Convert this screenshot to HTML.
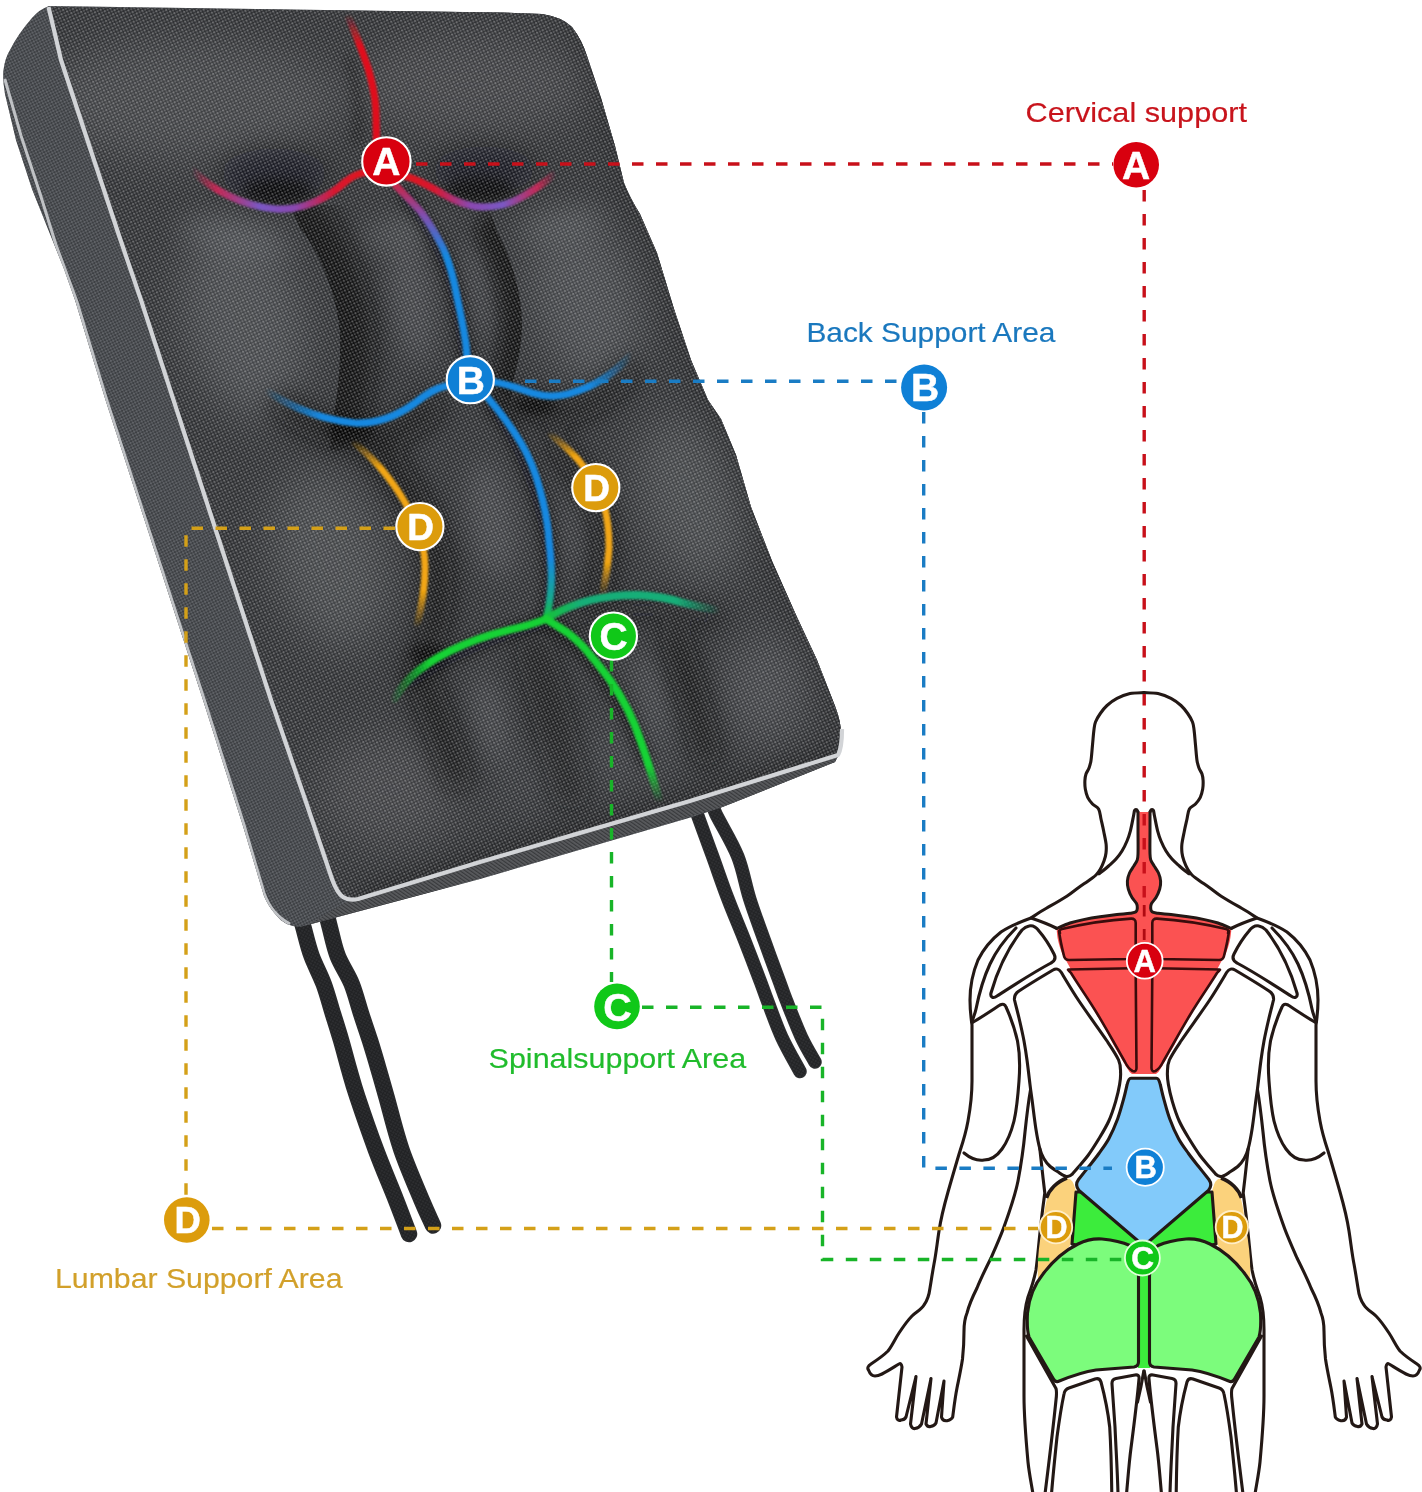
<!DOCTYPE html>
<html lang="en">
<head>
<meta charset="utf-8">
<title>Cushion support areas</title>
<style>
html,body{margin:0;padding:0;background:#fff;}
body{width:1422px;height:1492px;overflow:hidden;}
svg{display:block;}
text{font-family:"Liberation Sans",sans-serif;}
.lbl{font-size:28.5px;stroke-width:0.18px;}
.bd{font-weight:bold;fill:#fff;text-anchor:middle;stroke:#fff;stroke-width:0.5px;}
</style>
</head>
<body>
<svg width="1422" height="1492" viewBox="0 0 1422 1492">
<defs>
  <filter id="b2" x="-20%" y="-20%" width="140%" height="140%"><feGaussianBlur stdDeviation="2"/></filter>
  <filter id="b15" x="-20%" y="-20%" width="140%" height="140%"><feGaussianBlur stdDeviation="1.4"/></filter>
  <filter id="b12u" filterUnits="userSpaceOnUse" x="0" y="0" width="900" height="960"><feGaussianBlur stdDeviation="11"/></filter>
  <filter id="b6u" filterUnits="userSpaceOnUse" x="0" y="0" width="900" height="960"><feGaussianBlur stdDeviation="7"/></filter>
  <filter id="b1" x="-20%" y="-20%" width="140%" height="140%"><feGaussianBlur stdDeviation="1"/></filter>
  <filter id="b6" x="-30%" y="-30%" width="160%" height="160%"><feGaussianBlur stdDeviation="6"/></filter>
  <filter id="b12" x="-40%" y="-40%" width="180%" height="180%"><feGaussianBlur stdDeviation="12"/></filter>
  <filter id="b20" x="-50%" y="-50%" width="200%" height="200%"><feGaussianBlur stdDeviation="20"/></filter>
  <pattern id="weave" width="4.4" height="4.4" patternUnits="userSpaceOnUse" patternTransform="rotate(20)">
    <rect width="4.4" height="4.4" fill="#000" fill-opacity="0.3"/>
    <circle cx="1.1" cy="1.1" r="1.05" fill="#fff" fill-opacity="0.32"/>
    <circle cx="3.3" cy="3.3" r="1.05" fill="#fff" fill-opacity="0.24"/>
  </pattern>
  <pattern id="weave2" width="4" height="4" patternUnits="userSpaceOnUse" patternTransform="rotate(18)">
    <rect width="4" height="4" fill="#3a3d42"/>
    <circle cx="1" cy="1" r="1.05" fill="#9a9ea4"/>
    <circle cx="3" cy="3" r="1.05" fill="#8a8e94"/>
  </pattern>
  <pattern id="ribs" width="3" height="3" patternUnits="userSpaceOnUse" patternTransform="rotate(-55)">
    <rect width="3" height="3" fill="#000" fill-opacity="0"/>
    <rect width="1.2" height="3" fill="#1c1d1f" fill-opacity="0.55"/>
  </pattern>
  <pattern id="rope" width="3" height="3" patternUnits="userSpaceOnUse" patternTransform="rotate(30)">
    <rect width="3" height="3" fill="#1d1e20"/>
    <circle cx="1" cy="1" r="0.7" fill="#4a4c50"/>
  </pattern>
  <clipPath id="clL"><path d="M290,205 L300,228 C318,250 338,295 340,335 C341,368 337,398 333,420 L330,450 L480,450 L480,205 Z"/></clipPath>
  <clipPath id="clR"><path d="M490,210 L497,232 C512,258 523,298 522,328 C521,350 517,366 513,382 L510,410 L420,410 L420,210 Z"/></clipPath>
  <clipPath id="cushClip">
    <path id="cushOuter" d="M49,6 L500,12.5 L542,14 Q562,17 572,27 Q582,40 587,56 L601,98 L615,146 L624,183 Q630,198 640,214 L657,253 L674,309 L691,360 L708,400 L721,419 L736,455 L751,507 L772,561 L796,615 L817,660 L835,706 Q842,724 841,738 Q841,752 835,762 L720,808 L692,817 L480,879 L300,927 Q284,926 276,915 Q268,906 264,896 L243,826 L203,700 L105.5,400 L75,300 L64,269 L48,229 L32,189 L16,140 L5,94 Q2.5,80 3.5,70 Q5,58 10,50 Q18,34 32,18 Q40,9 49,6 Z"/>
  </clipPath>
  <clipPath id="faceClip">
    <path d="M49,7 L500,12.5 L542,14 Q562,17 572,27 Q582,40 587,56 L601,98 L615,146 L624,183 Q630,198 640,214 L657,253 L674,309 L691,360 L708,400 L721,419 L736,455 L751,507 L772,561 L796,615 L817,660 L835,706 Q842,724 841,738 L840,754 L690,801 L480,862 L355,900 Q345,900 340,896 L332,879 L307,805 L271,700 L141,300 L120,238.5 L90,148 L61,60 L54,30 Z"/>
  </clipPath>
  <linearGradient id="gRedL" gradientUnits="userSpaceOnUse" x1="192" y1="0" x2="370" y2="0">
    <stop offset="0" stop-color="#d02050" stop-opacity="0"/><stop offset="0.14" stop-color="#d02858" stop-opacity="0.9"/><stop offset="0.38" stop-color="#7a58c4"/><stop offset="0.58" stop-color="#8a48b0"/><stop offset="0.8" stop-color="#d81830"/><stop offset="1" stop-color="#e0101c"/>
  </linearGradient>
  <linearGradient id="gRedR" gradientUnits="userSpaceOnUse" x1="400" y1="0" x2="556" y2="0">
    <stop offset="0" stop-color="#e0101c"/><stop offset="0.22" stop-color="#d81830"/><stop offset="0.45" stop-color="#8a48b0"/><stop offset="0.66" stop-color="#7a58c4"/><stop offset="0.88" stop-color="#d02858" stop-opacity="0.9"/><stop offset="1" stop-color="#d02050" stop-opacity="0"/>
  </linearGradient>
  <linearGradient id="gAB" gradientUnits="userSpaceOnUse" x1="0" y1="180" x2="0" y2="380">
    <stop offset="0" stop-color="#d0203a"/><stop offset="0.18" stop-color="#8050b0"/><stop offset="0.38" stop-color="#1488e0"/><stop offset="1" stop-color="#1488e0"/>
  </linearGradient>
  <linearGradient id="gRedV" gradientUnits="userSpaceOnUse" x1="0" y1="14" x2="0" y2="140">
    <stop offset="0" stop-color="#e0101c" stop-opacity="0"/><stop offset="0.25" stop-color="#e0101c"/><stop offset="1" stop-color="#e0101c"/>
  </linearGradient>
  <linearGradient id="gBlueL" gradientUnits="userSpaceOnUse" x1="265" y1="0" x2="450" y2="0">
    <stop offset="0" stop-color="#1488e0" stop-opacity="0"/><stop offset="0.3" stop-color="#1488e0"/><stop offset="1" stop-color="#1488e0"/>
  </linearGradient>
  <linearGradient id="gBlueR" gradientUnits="userSpaceOnUse" x1="490" y1="0" x2="632" y2="0">
    <stop offset="0" stop-color="#1488e0"/><stop offset="0.7" stop-color="#1488e0"/><stop offset="1" stop-color="#1488e0" stop-opacity="0"/>
  </linearGradient>
  <linearGradient id="gBC" gradientUnits="userSpaceOnUse" x1="0" y1="400" x2="0" y2="620">
    <stop offset="0" stop-color="#1488e0"/><stop offset="0.72" stop-color="#1488e0"/><stop offset="0.9" stop-color="#14a890"/><stop offset="1" stop-color="#12c03a"/>
  </linearGradient>
  <linearGradient id="gGrL" gradientUnits="userSpaceOnUse" x1="390" y1="0" x2="548" y2="0">
    <stop offset="0" stop-color="#14d234" stop-opacity="0"/><stop offset="0.25" stop-color="#14d234"/><stop offset="1" stop-color="#14d234"/>
  </linearGradient>
  <linearGradient id="gGrR" gradientUnits="userSpaceOnUse" x1="546" y1="0" x2="720" y2="0">
    <stop offset="0" stop-color="#12c03a"/><stop offset="0.2" stop-color="#14ae78"/><stop offset="0.75" stop-color="#14ae78"/><stop offset="1" stop-color="#14ae78" stop-opacity="0"/>
  </linearGradient>
  <linearGradient id="gGrD" gradientUnits="userSpaceOnUse" x1="0" y1="620" x2="0" y2="802">
    <stop offset="0" stop-color="#14d234"/><stop offset="0.8" stop-color="#14d234"/><stop offset="1" stop-color="#14d234" stop-opacity="0"/>
  </linearGradient>
  <linearGradient id="gYR" gradientUnits="userSpaceOnUse" x1="0" y1="432" x2="0" y2="595">
    <stop offset="0" stop-color="#f2a612" stop-opacity="0"/><stop offset="0.15" stop-color="#f2a612"/><stop offset="0.8" stop-color="#f2a612"/><stop offset="1" stop-color="#f2a612" stop-opacity="0"/>
  </linearGradient>
  <linearGradient id="gYL" gradientUnits="userSpaceOnUse" x1="0" y1="440" x2="0" y2="628">
    <stop offset="0" stop-color="#f2a612" stop-opacity="0"/><stop offset="0.15" stop-color="#f2a612"/><stop offset="0.8" stop-color="#f2a612"/><stop offset="1" stop-color="#f2a612" stop-opacity="0"/>
  </linearGradient>
</defs>

<rect width="1422" height="1492" fill="#ffffff"/>

<!-- ===== STRAPS ===== -->
<g id="straps" fill="none" stroke-linecap="round">
  <path d="M300.0,915.0 C300.6,917.2 301.7,921.2 303.6,928.0 C305.5,934.8 308.2,946.7 311.6,956.0 C315.0,965.3 320.1,974.3 323.7,984.0 C327.3,993.7 330.1,1004.7 333.0,1014.0 C335.9,1023.3 338.3,1030.8 341.0,1040.0 C343.7,1049.2 346.3,1059.5 349.0,1069.0 C351.7,1078.5 352.9,1083.5 357.4,1097.0 C361.9,1110.5 369.6,1132.8 376.0,1150.0 C382.4,1167.2 390.5,1186.0 396.0,1200.0 C401.5,1214.0 406.8,1228.3 409.0,1234.0" stroke="#2a2b2d" stroke-width="16.5"/>
  <path d="M326.0,912.0 C326.7,914.7 328.1,920.7 330.0,928.0 C331.9,935.3 334.1,946.7 337.7,956.0 C341.3,965.3 347.8,974.3 351.7,984.0 C355.6,993.7 358.1,1004.6 361.2,1014.0 C364.2,1023.4 367.1,1031.4 370.0,1040.6 C372.9,1049.8 375.8,1059.6 378.5,1069.0 C381.2,1078.4 382.7,1083.5 386.5,1097.0 C390.3,1110.5 395.6,1132.8 401.5,1150.0 C407.4,1167.2 416.4,1187.4 421.6,1200.0 C426.9,1212.6 431.1,1221.2 433.0,1225.5" stroke="#2a2b2d" stroke-width="16.5"/>
  <path d="M696.0,810.0 C696.6,811.8 696.9,813.3 699.7,821.0 C702.5,828.7 707.9,843.4 712.6,856.3 C717.3,869.2 722.4,884.5 727.8,898.5 C733.1,912.5 739.2,926.6 744.7,940.6 C750.2,954.6 757.1,972.9 760.9,982.8 C764.6,992.7 763.7,990.9 767.2,1000.0 C770.7,1009.1 776.3,1025.4 781.8,1037.3 C787.3,1049.2 797.0,1065.8 800.0,1071.5" stroke="#303133" stroke-width="13.5"/>
  <path d="M711.0,800.0 C711.8,802.3 711.4,804.6 715.9,814.0 C720.4,823.4 732.1,842.2 737.7,856.3 C743.3,870.4 745.2,884.5 749.6,898.5 C754.0,912.5 759.4,926.6 764.4,940.6 C769.4,954.6 776.3,972.9 779.9,982.8 C783.5,992.7 782.6,990.9 786.2,1000.0 C789.8,1009.1 796.7,1027.0 801.5,1037.3 C806.3,1047.6 812.8,1057.9 815.0,1062.0" stroke="#303133" stroke-width="13.5"/>
  <path d="M300.0,915.0 C300.6,917.2 301.7,921.2 303.6,928.0 C305.5,934.8 308.2,946.7 311.6,956.0 C315.0,965.3 320.1,974.3 323.7,984.0 C327.3,993.7 330.1,1004.7 333.0,1014.0 C335.9,1023.3 338.3,1030.8 341.0,1040.0 C343.7,1049.2 346.3,1059.5 349.0,1069.0 C351.7,1078.5 352.9,1083.5 357.4,1097.0 C361.9,1110.5 369.6,1132.8 376.0,1150.0 C382.4,1167.2 390.5,1186.0 396.0,1200.0 C401.5,1214.0 406.8,1228.3 409.0,1234.0" stroke="url(#rope)" stroke-width="14" opacity="0.7"/>
  <path d="M326.0,912.0 C326.7,914.7 328.1,920.7 330.0,928.0 C331.9,935.3 334.1,946.7 337.7,956.0 C341.3,965.3 347.8,974.3 351.7,984.0 C355.6,993.7 358.1,1004.6 361.2,1014.0 C364.2,1023.4 367.1,1031.4 370.0,1040.6 C372.9,1049.8 375.8,1059.6 378.5,1069.0 C381.2,1078.4 382.7,1083.5 386.5,1097.0 C390.3,1110.5 395.6,1132.8 401.5,1150.0 C407.4,1167.2 416.4,1187.4 421.6,1200.0 C426.9,1212.6 431.1,1221.2 433.0,1225.5" stroke="url(#rope)" stroke-width="14" opacity="0.7"/>
  <path d="M696.0,810.0 C696.6,811.8 696.9,813.3 699.7,821.0 C702.5,828.7 707.9,843.4 712.6,856.3 C717.3,869.2 722.4,884.5 727.8,898.5 C733.1,912.5 739.2,926.6 744.7,940.6 C750.2,954.6 757.1,972.9 760.9,982.8 C764.6,992.7 763.7,990.9 767.2,1000.0 C770.7,1009.1 776.3,1025.4 781.8,1037.3 C787.3,1049.2 797.0,1065.8 800.0,1071.5" stroke="url(#rope)" stroke-width="11.5" opacity="0.7"/>
  <path d="M711.0,800.0 C711.8,802.3 711.4,804.6 715.9,814.0 C720.4,823.4 732.1,842.2 737.7,856.3 C743.3,870.4 745.2,884.5 749.6,898.5 C754.0,912.5 759.4,926.6 764.4,940.6 C769.4,954.6 776.3,972.9 779.9,982.8 C783.5,992.7 782.6,990.9 786.2,1000.0 C789.8,1009.1 796.7,1027.0 801.5,1037.3 C806.3,1047.6 812.8,1057.9 815.0,1062.0" stroke="url(#rope)" stroke-width="11.5" opacity="0.7"/>
</g>

<!-- ===== CUSHION ===== -->
<g id="cushion">
  <!-- side panel / whole silhouette -->
  <use href="#cushOuter" fill="#3f4144"/>
  <g clip-path="url(#cushClip)">
    <rect x="0" y="0" width="860" height="940" fill="url(#weave2)" opacity="0.42"/>
    <!-- bottom side band darker -->
    <path d="M296,932 L842,772 L842,752 L350,900 Z" fill="#5a5b5e"/>
    <path d="M296,932 L842,772 L842,752 L350,900 Z" fill="url(#ribs)"/>
    <!-- back piping -->
    <path d="M4.8,79 L21,135.6 L40,193.5 L56,245 L66,272 L77,302 L107,401 L204,699 L244,825 L264,893 Q271,914 290,924" fill="none" stroke="#c6c8cb" stroke-width="3" opacity="0.95"/>
  </g>
  <!-- front face -->
  <g clip-path="url(#faceClip)">
    <rect x="0" y="0" width="860" height="940" fill="#414347"/>
    <!-- SHADING -->
    <g id="shade">
      <!-- broad light areas -->
      <g filter="url(#b20)" fill="#75787d">
        <ellipse cx="190" cy="100" rx="150" ry="60" opacity="0.5"/>
        <ellipse cx="470" cy="85" rx="120" ry="50" opacity="0.45"/>
        <ellipse cx="245" cy="320" rx="60" ry="100" opacity="0.65" transform="rotate(-14 245 320)"/>
        <ellipse cx="585" cy="300" rx="52" ry="90" opacity="0.65" transform="rotate(-16 585 300)"/>
        <ellipse cx="330" cy="560" rx="55" ry="90" opacity="0.6" transform="rotate(-16 330 560)"/>
        <ellipse cx="690" cy="500" rx="48" ry="85" opacity="0.6" transform="rotate(-18 690 500)"/>
        <ellipse cx="765" cy="690" rx="42" ry="55" opacity="0.55"/>
        <ellipse cx="390" cy="790" rx="70" ry="55" opacity="0.45"/>
        <ellipse cx="600" cy="760" rx="120" ry="30" opacity="0.3" transform="rotate(-16 600 760)"/>
      </g>
      <g filter="url(#b12)" fill="#7a7d83">
        <ellipse cx="412" cy="300" rx="20" ry="65" opacity="0.5" transform="rotate(-8 412 300)"/>
        <ellipse cx="478" cy="290" rx="9" ry="50" opacity="0.5" transform="rotate(-10 478 290)"/>
        <ellipse cx="492" cy="520" rx="22" ry="60" opacity="0.5" transform="rotate(-10 492 520)"/>
        <ellipse cx="578" cy="530" rx="10" ry="45" opacity="0.45"/>
        <ellipse cx="490" cy="720" rx="16" ry="45" opacity="0.5" transform="rotate(-12 490 720)"/>
        <ellipse cx="652" cy="690" rx="13" ry="42" opacity="0.5" transform="rotate(-15 652 690)"/>
      </g>
      <!-- wide shadows on the shadow side of creases -->
      <g filter="url(#b12)" fill="none" stroke="#0d0e10" stroke-linecap="round">
                                        <path d="M285,408 C310,426 338,440 364,440 C392,440 412,424 432,408" stroke-width="26" opacity="0.75"/>
        <path d="M505,398 C525,408 545,414 566,412 C590,408 610,394 628,374" stroke-width="24" opacity="0.75"/>
        <path d="M382,458 C402,478 422,508 432,538 C442,568 440,602 432,636" stroke-width="28" opacity="0.8"/>
        <path d="M556,446 C578,466 594,494 601,522 C607,550 604,580 598,600" stroke-width="22" opacity="0.75"/>
        <path d="M420,668 C430,702 445,742 457,776" stroke-width="32" opacity="0.7"/>
        <path d="M535,652 C550,702 560,752 570,790" stroke-width="40" opacity="0.55"/>
        <path d="M676,642 C689,682 699,716 706,752" stroke-width="30" opacity="0.7"/>
        <path d="M565,622 C604,608 652,604 715,618" stroke-width="18" opacity="0.6"/>
      </g>
      <g filter="url(#b12)" fill="#0b0c0e">
        <ellipse cx="274" cy="174" rx="54" ry="26" opacity="0.5"/>
        <ellipse cx="484" cy="170" rx="52" ry="24" opacity="0.5"/>
      </g>
      <g filter="url(#b12)" fill="#80848a">
        <ellipse cx="235" cy="238" rx="58" ry="16" opacity="0.5" transform="rotate(12 235 238)"/>
        <ellipse cx="398" cy="232" rx="40" ry="14" opacity="0.45" transform="rotate(-10 398 232)"/>
        <ellipse cx="560" cy="225" rx="45" ry="14" opacity="0.45" transform="rotate(-8 560 225)"/>
      </g>
      <!-- sharp-edged crease shadows -->
      <g clip-path="url(#clL)"><path d="M300,228 C318,250 338,295 340,335 C341,368 337,398 333,420" fill="none" stroke="#08090a" stroke-width="70" stroke-linecap="round" opacity="0.8" filter="url(#b12u)"/></g>
      <g clip-path="url(#clR)"><path d="M497,232 C512,258 523,298 522,328 C521,350 517,366 513,382" fill="none" stroke="#08090a" stroke-width="42" stroke-linecap="round" opacity="0.8" filter="url(#b6u)"/></g>
      <g filter="url(#b6)" fill="none" stroke="#08090a" stroke-linecap="round">
        <path d="M405,195 C430,225 448,260 456,297 C462,330 466,355 470,380" stroke-width="14" opacity="0.65"/>
        <path d="M492,405 C520,440 540,490 548,541 C552,575 550,600 546,618" stroke-width="14" opacity="0.65"/>
        <path d="M546,622 C500,634 450,652 410,682" stroke-width="14" opacity="0.65"/>
        <path d="M552,626 C590,652 625,700 645,760" stroke-width="14" opacity="0.6"/>
        <path d="M356,140 C362,120 358,90 350,60" stroke-width="10" opacity="0.4"/>
      </g>
      <!-- dimples -->
      <g filter="url(#b6)" fill="#050607">
        <ellipse cx="278" cy="192" rx="36" ry="13" opacity="0.75"/>
        <ellipse cx="480" cy="190" rx="36" ry="13" opacity="0.75"/>
        <ellipse cx="350" cy="430" rx="24" ry="12" opacity="0.8"/>
        <ellipse cx="535" cy="405" rx="22" ry="10" opacity="0.8"/>
        <ellipse cx="428" cy="655" rx="18" ry="12" opacity="0.8"/>
      </g>
      <!-- edge vignette -->
      <g filter="url(#b12)" fill="none" stroke="#101113">
        <path d="M572,27 Q582,40 587,56 L601,98 L615,146 L624,183 Q630,198 640,214 L657,253 L674,309 L691,360 L708,400 L721,419 L736,455 L751,507 L772,561 L796,615 L817,660 L835,706 Q842,724 841,738" stroke-width="10" opacity="0.3"/>
        <path d="M355,900 L480,862 L690,801 L840,754" stroke-width="12" opacity="0.55"/>
      </g>
    </g>
    <rect x="0" y="0" width="860" height="940" fill="url(#weave)"/>
  </g>
  <!-- front piping -->
  <path d="M48.5,7 L54,30 L61,60 L90,148 L120,238.5 L141,300 L271,700 L307,805 L332,879 Q337,893 343,897 Q349,901 358,899 L480,862 L690,801 L838,755 Q842,748 842,729" fill="none" stroke="#d2d4d7" stroke-width="4.2" stroke-linejoin="round"/>
</g>

<!-- ===== COLOURED CURVES ON CUSHION ===== -->
<g id="curves" fill="none" stroke-linecap="round" filter="url(#b1)">
  <path d="M349,18 C356,35 363,52 368.6,70 C372,82 374.5,92 375.5,105 C376.3,115 376.3,128 376.5,140" stroke="url(#gRedV)" stroke-width="7.2"/>
  <path d="M192,170 C210,188 240,206 276,209 C305,211 330,196 345,182 C352,176 360,173 367,172" stroke="url(#gRedL)" stroke-width="7.2"/>
  <path d="M405,176 C420,180 432,188 443,194 C458,203 470,207 483,207 C500,207 512,203 522,197 C534,190 545,183 553,175" stroke="url(#gRedR)" stroke-width="7.2"/>
  <path d="M396,186 C406,196 414,204 421,212 C430,224 437,236 443,248 C450,264 454,280 457,297 C461,316 464,330 466,345 C467,358 468,368 470,380" stroke="url(#gAB)" stroke-width="7.2"/>
  <path d="M268,392 C290,406 320,420 355,423 C380,424 400,414 415,403 C428,393 436,388 446,386" stroke="url(#gBlueL)" stroke-width="7.2"/>
  <path d="M494,382 C508,384 520,389 532,393 C545,397 556,397 568,394 C582,390 594,385 603,379 C614,372 622,365 630,356" stroke="url(#gBlueR)" stroke-width="7.2"/>
  <path d="M488,398 C500,412 512,428 521,443 C530,458 536,474 540,490 C545,508 548,524 549,541 C551,558 552,574 551,588 C550,600 549,610 546,618" stroke="url(#gBC)" stroke-width="7.2"/>
  <path d="M546,619 C534,624 522,627 509,630 C488,635 468,642 450,651 C432,660 420,668 410,678 C403,685 398,692 394,699" stroke="url(#gGrL)" stroke-width="7.8"/>
  <path d="M546,619 C560,610 575,604 591,600 C607,596 622,595 638,595 C654,596 668,598 680,602 C692,605 705,608 718,610" stroke="url(#gGrR)" stroke-width="7.8"/>
  <path d="M546,619 C554,624 561,628 568,633 C577,640 585,648 591,656 C598,664 604,672 610,680 C624,700 634,720 641,742 C648,762 654,782 659,800" stroke="url(#gGrD)" stroke-width="7.8"/>
  <path d="M551,434 C562,444 572,452 580,462 C590,474 598,488 603,502 C607,514 609,530 609,548 C608,564 606,578 603,592" stroke="url(#gYR)" stroke-width="6.8"/>
  <path d="M355,443 C368,454 378,464 387,476 C398,490 408,506 415,522 C421,536 425,552 425,567 C425,588 422,606 417,625" stroke="url(#gYL)" stroke-width="6.8"/>
</g>


<!-- ===== BODY ===== -->
<g id="body">

  <g id="half" fill="none" stroke="#231815" stroke-width="3.1" stroke-linejoin="round" stroke-linecap="round">
    <!-- head half + neck + shoulder + arm outer -->
    <path d="M1144.0,692.6 C1141.7,692.8 1134.5,692.6 1130.0,693.6 C1125.5,694.6 1120.8,696.4 1117.0,698.4 C1113.2,700.4 1109.8,703.0 1107.0,705.5 C1104.2,708.0 1102.2,710.8 1100.3,713.5 C1098.4,716.2 1096.6,719.2 1095.5,722.0 C1094.4,724.8 1094.4,726.5 1093.9,730.3 C1093.4,734.1 1093.0,740.0 1092.5,745.0 C1092.0,750.0 1091.6,756.6 1091.0,760.4 C1090.4,764.2 1089.8,765.7 1089.0,768.0 C1088.2,770.3 1086.7,771.9 1086.0,774.0 C1085.3,776.1 1085.0,778.0 1084.9,780.5 C1084.8,783.0 1084.8,786.2 1085.3,789.0 C1085.8,791.8 1086.5,794.8 1087.7,797.3 C1088.9,799.8 1090.7,802.0 1092.5,804.0 C1094.3,806.0 1097.2,806.5 1098.6,809.0 C1100.0,811.5 1100.2,815.4 1101.0,819.0 C1101.8,822.6 1102.8,826.6 1103.6,830.8 C1104.4,835.0 1105.7,840.5 1106.1,844.2 C1106.5,847.9 1106.3,850.2 1106.0,853.0 C1105.7,855.8 1105.0,858.3 1104.0,861.0 C1103.0,863.7 1101.6,867.0 1100.3,869.3 C1099.0,871.6 1097.7,873.3 1096.0,875.0 C1094.3,876.7 1093.2,877.2 1090.2,879.4 C1087.2,881.6 1081.9,885.2 1078.0,888.0 C1074.1,890.8 1071.5,893.2 1066.8,896.2 C1062.1,899.2 1054.5,903.6 1050.0,906.2 C1045.5,908.8 1043.2,910.0 1040.0,912.0 C1036.8,914.0 1032.5,917.0 1031.0,918.0 C1020,922 1010,926 1001,932 C992,939 984,948 978,960 C973,972 970,986 970,1000 C970,1010 971,1018 972,1025 L972,1081 C972,1096 970,1110 968,1121 C966,1132 963,1142 960,1151 C956,1164 952,1178 948,1192 C944,1206 941,1218 939,1231 C937,1244 936,1254 934,1264 C932,1275 931,1282 930,1288 C929,1296 927,1301 924,1305 C921,1310 916,1312 912,1316 C907,1321 903,1327 899,1333 C895,1339 892,1346 888,1351 C883,1356 877,1360 871,1364 C868,1366 867,1368 868.5,1370 C870,1374 872,1376 875,1376 C878,1376 880,1375 882,1374 C888,1371 894,1367 899,1364 C900.5,1363 901.5,1364 902,1367 L896.5,1417 C897,1420 899,1421 901,1420 C903,1420 905,1419 906,1417 L916,1376.5 L910.5,1424 C911,1427 913,1429 915,1428.5 C918,1428 920,1427 921.5,1424 L931,1378.5 L926,1424 C927,1426 929,1427 930.5,1426.5 C933,1426 935,1425 936,1423 L944,1381 L941.5,1417 C942,1420 944,1421 947,1420.7 C950,1420 952,1419 952.7,1417 C954,1407 955,1398 957,1388 C959,1378 961,1369 962.5,1359 C963.5,1350 964,1340 964,1331 C964,1324 965,1318 967,1313 C969,1305 973,1296 977,1288 C981,1278 986,1268 991,1258 C996,1246 1001,1236 1005,1224 C1010,1210 1015,1196 1018,1181 C1021,1165 1023.5,1148 1025,1132 C1026.5,1118 1028,1104 1030.5,1090"/>
    <!-- neck muscle leaf + spine outline -->
    <path d="M1138.0,812.0 C1137.8,811.6 1137.2,809.9 1136.6,809.6 C1136.0,809.4 1135.1,809.4 1134.6,810.5 C1134.1,811.6 1134.2,812.6 1133.5,816.0 C1132.8,819.4 1131.5,826.6 1130.4,830.8 C1129.3,835.0 1128.4,837.6 1127.0,841.0 C1125.6,844.4 1123.8,848.0 1122.0,851.0 C1120.2,854.0 1118.2,856.5 1116.0,859.0 C1113.8,861.5 1110.8,864.0 1108.6,866.0 C1106.4,868.0 1104.6,869.5 1103.0,870.8 C1101.4,872.1 1099.7,873.3 1099.0,873.8"/>
    <!-- trapezius to red top connection -->
    <path d="M1031,918 C1040,921 1048,924 1056,928"/>
    <!-- deltoid lens -->
    <path d="M1016,928 C1005,939 996,951 990,964 C983,979 979,994 976,1009 C975,1014 973,1018 972,1022"/>
    <!-- rear deltoid triangle -->
    <path d="M1029,926 C1033,925 1036,927 1039,931 C1045,938 1050,946 1054,954 C1056,958 1055,961 1051,963 C1034,972 1014,985 997,996 C993,999 990,997 991,993 C997,972 1008,948 1022,930 C1024,928 1026,926.5 1029,926 Z" fill="#fff"/>
    <!-- triceps -->
    <path d="M972.5,1022.5 C982,1017 992,1010 1000,1005 C1003,1003.5 1005,1004.5 1006,1007 C1011,1018 1015,1030 1017.5,1041 C1020,1054 1020,1068 1019,1081 C1018,1095 1017,1108 1014,1121 C1011,1133 1007,1142 1002,1149 C997,1156 991,1160 984,1160 C977,1161 970,1158 964,1153"/>
    <!-- lat -->
    <path d="M1014.5,1000 C1014,996 1016,993 1019,991 C1031,983 1043,976 1053,970 C1056,968 1059,969 1061,972  C1064.0,976.8 1071.3,989.5 1079.0,1001.0 C1086.7,1012.5 1100.4,1031.2 1107.0,1041.0 C1113.6,1050.8 1116.3,1054.7 1118.6,1060.0 C1120.9,1065.3 1120.4,1068.7 1120.6,1072.8 C1120.8,1076.9 1120.4,1079.8 1119.6,1084.6 C1118.8,1089.4 1117.5,1095.3 1115.7,1101.4 C1113.9,1107.5 1111.6,1114.8 1108.8,1121.0 C1106.0,1127.2 1102.4,1133.0 1098.9,1138.8 C1095.4,1144.5 1091.5,1150.8 1088.0,1155.5 C1084.5,1160.2 1080.8,1164.2 1078.2,1167.3 C1075.6,1170.4 1073.3,1173.0 1072.3,1174.2 Q1069.5,1177 1066,1176.5 Q1062,1175 1059.5,1173  C1057.9,1171.8 1052.3,1168.4 1049.7,1166.0 C1047.1,1163.6 1045.5,1161.4 1043.8,1158.5 C1042.1,1155.6 1041.1,1153.5 1039.8,1148.6 C1038.5,1143.7 1037.2,1137.2 1035.9,1129.0 C1034.6,1120.8 1033.0,1106.8 1032.0,1099.4 C1031.0,1092.0 1030.8,1091.2 1030.0,1084.6 C1029.2,1078.0 1028.0,1067.3 1027.0,1060.0 C1026.0,1052.7 1025.3,1048.0 1024.0,1041.0 C1022.7,1034.0 1020.6,1024.8 1019.0,1018.0 C1017.4,1011.2 1015.2,1003.0 1014.5,1000.0 Z" fill="#fff"/>
    <!-- hip outline -->
    <path d="M1039.8,1148.6 C1041,1160 1043,1178 1044.8,1193 C1043.5,1203 1042,1213 1041,1224 C1039,1240 1038,1255 1036,1270 C1034,1280 1031,1289 1028,1297 C1025,1307 1024,1318 1024,1330 L1024,1396 C1024,1418 1026,1440 1028,1462 C1029,1472 1031,1482 1033,1494"/>
    <!-- legs -->
    <path d="M1026.5,1336 L1056,1388.5 C1057,1392 1056.5,1396 1056,1400 C1053,1430 1049,1462 1045,1494"/>
    <path d="M1051.5,1494 C1053,1475 1055,1456 1057,1437 C1059,1422 1061,1408 1064,1394 C1064.5,1391 1066,1389 1069,1388 L1095,1379 C1098,1378 1100,1379 1101,1382 C1105,1397 1108,1412 1109.7,1427 C1111,1448 1111.5,1470 1111.8,1494"/>
    <path d="M1118,1494 C1117.5,1472 1116,1450 1115,1427 C1114,1412 1113,1398 1112,1384 C1111.8,1381 1113,1379 1116,1378.5 L1135,1375 C1138,1374.5 1139.5,1376 1139,1379 C1137,1402 1134,1425 1131,1448 C1129,1463 1128,1478 1126.5,1494"/>
    <path d="M1143.8,1371 C1142,1382 1140,1392 1137.5,1402"/>
  </g>
  <use href="#half" transform="translate(2288.0,0) scale(-1,1)"/>

  <!-- coloured regions -->
  <g stroke="#231815" stroke-width="3.1" stroke-linejoin="round">
    <!-- yellow love handles -->
    <g id="yl"><path d="M1066,1178.5 C1070,1178 1073,1181 1074,1185 C1076,1190 1077,1195 1077,1201 C1076,1214 1074,1227 1072,1240 C1071,1246 1067,1250 1062,1254 C1053,1261 1045,1270 1038,1279 C1037,1262 1039,1245 1042,1228 C1044,1216 1045,1204 1048,1196 C1051,1188 1058,1181 1066,1178.5 Z" fill="#fbd27c" stroke="none"/><path d="M1046.5,1198 C1049,1190 1057,1181.5 1067,1178" fill="none" stroke-width="3.6"/></g>
    <use href="#yl" transform="translate(2288.0,0) scale(-1,1)"/>
    <!-- bright green triangles -->
    <path d="M1076,1192 L1212,1192 L1216,1244 L1144,1262 L1072,1244 Z" fill="#3cec3c"/>
    <!-- center strip -->
    <rect x="1138" y="1262" width="12" height="106" fill="#3cec3c" stroke="none"/>
    <!-- glutes -->
    <path id="gl" d="M1138.5,1276 L1138.5,1362 C1138.5,1365 1137,1366.5 1134,1367 C1121,1368 1108,1369 1096,1370 C1082,1372 1069,1377 1058,1381.5 C1056,1382 1054.5,1381 1053.5,1379 L1029,1337 C1027,1330 1027,1322 1027.5,1313 C1029,1298 1034,1285 1043,1274 C1052,1262 1064,1251 1078,1244 C1086,1240 1094,1238.5 1102,1239 C1112,1240 1122,1242 1130,1245.5 C1134,1248 1137,1256 1138.5,1276 Z" fill="#7cfc7c"/>
    <use href="#gl" transform="translate(2288.0,0) scale(-1,1)"/>
    <!-- blue -->
    <path d="M1131,1078.2 L1156.4,1078.2 Q1158.9,1078.2 1160.4,1085  C1161.0,1087.4 1162.3,1093.7 1163.9,1099.4 C1165.5,1105.1 1167.3,1112.4 1169.8,1119.0 C1172.2,1125.6 1175.5,1133.0 1178.6,1138.8 C1181.7,1144.5 1185.2,1148.9 1188.5,1153.5 C1191.8,1158.1 1195.0,1162.0 1198.4,1166.3 C1201.8,1170.6 1207.2,1177.3 1208.9,1179.5 Q1212.9,1185 1208.4,1190.5 L1146.5,1243.5 Q1143.7,1246 1141,1243.5 L1079,1190.5 Q1074.5,1185 1078.5,1179.5  C1080.2,1177.3 1085.6,1170.6 1089.0,1166.3 C1092.4,1162.0 1095.6,1158.1 1098.9,1153.5 C1102.2,1148.9 1105.7,1144.5 1108.8,1138.8 C1111.9,1133.0 1115.1,1125.6 1117.6,1119.0 C1120.0,1112.4 1121.9,1105.1 1123.5,1099.4 C1125.1,1093.7 1126.4,1087.4 1127.0,1085.0 Q1128.5,1078.2 1131,1078.2 Z" fill="#82cafa"/>
    <!-- red trapezoid fill -->
    <path d="M1138.0,812.0 C1138.0,815.0 1138.0,823.0 1138.0,830.0 C1138.0,837.0 1138.2,848.9 1138.0,854.0 C1137.8,859.1 1137.7,858.5 1137.0,860.5 C1136.3,862.5 1135.0,863.9 1133.8,866.0 C1132.5,868.1 1130.6,870.5 1129.5,873.0 C1128.4,875.5 1127.6,878.3 1127.4,881.0 C1127.2,883.7 1127.5,886.2 1128.3,889.0 C1129.1,891.8 1130.6,895.1 1132.0,897.5 C1133.4,899.9 1135.6,901.8 1136.5,903.5 C1137.4,905.2 1137.4,906.6 1137.3,908.0 C1137.2,909.4 1137.2,910.9 1136.0,911.8 C1134.8,912.7 1133.2,912.7 1130.0,913.2 C1126.8,913.7 1122.0,914.0 1117.0,914.6 C1112.0,915.2 1105.6,916.0 1100.0,916.8 C1094.4,917.6 1088.5,918.6 1083.5,919.6 C1078.5,920.6 1074.5,921.5 1070.0,923.0 C1065.5,924.5 1058.8,927.6 1056.5,928.5 C1056.8,930.4 1057.1,935.9 1058.0,940.0 C1058.9,944.1 1060.3,949.0 1062.0,953.0 C1063.7,957.0 1065.0,958.5 1068.0,964.0 C1071.0,969.5 1075.8,978.7 1080.0,986.0 C1084.2,993.3 1088.7,1000.7 1093.0,1008.0 C1097.3,1015.3 1102.8,1024.3 1106.0,1030.0 C1109.2,1035.7 1109.7,1037.7 1112.0,1042.0 C1114.3,1046.3 1117.5,1051.7 1120.0,1056.0 C1122.5,1060.3 1125.8,1066.0 1127.0,1068.0 Q1129,1072 1132,1074 L1156.0,1074 Q1159.0,1072 1161.0,1068  C1162.2,1066.0 1165.5,1060.3 1168.0,1056.0 C1170.5,1051.7 1173.7,1046.3 1176.0,1042.0 C1178.3,1037.7 1178.8,1035.7 1182.0,1030.0 C1185.2,1024.3 1190.7,1015.3 1195.0,1008.0 C1199.3,1000.7 1203.8,993.3 1208.0,986.0 C1212.2,978.7 1217.0,969.5 1220.0,964.0 C1223.0,958.5 1224.3,957.0 1226.0,953.0 C1227.7,949.0 1229.1,944.1 1230.0,940.0 C1230.9,935.9 1231.2,930.4 1231.5,928.5 C1229.2,927.6 1222.5,924.5 1218.0,923.0 C1213.5,921.5 1209.5,920.6 1204.5,919.6 C1199.5,918.6 1193.6,917.6 1188.0,916.8 C1182.4,916.0 1176.0,915.2 1171.0,914.6 C1166.0,914.0 1161.2,913.7 1158.0,913.2 C1154.8,912.7 1153.2,912.7 1152.0,911.8 C1150.8,910.9 1150.8,909.4 1150.7,908.0 C1150.6,906.6 1150.6,905.2 1151.5,903.5 C1152.4,901.8 1154.6,899.9 1156.0,897.5 C1157.4,895.1 1158.9,891.8 1159.7,889.0 C1160.5,886.2 1160.8,883.7 1160.6,881.0 C1160.4,878.3 1159.6,875.5 1158.5,873.0 C1157.4,870.5 1155.5,868.1 1154.2,866.0 C1153.0,863.9 1151.7,862.5 1151.0,860.5 C1150.3,858.5 1150.2,859.1 1150.0,854.0 C1149.8,848.9 1150.0,837.0 1150.0,830.0 C1150.0,823.0 1150.0,815.0 1150.0,812.0 Z" fill="#fb5252" stroke="none"/>
    <!-- spine + trapezoid top outline -->
    <g fill="none" stroke="#231815" stroke-width="3" stroke-linecap="round">
      <path id="spo" d="M1056.5,928.5 C1058.8,927.6 1065.5,924.5 1070.0,923.0 C1074.5,921.5 1078.5,920.6 1083.5,919.6 C1088.5,918.6 1094.4,917.6 1100.0,916.8 C1105.6,916.0 1112.0,915.2 1117.0,914.6 C1122.0,914.0 1126.8,913.7 1130.0,913.2 C1133.2,912.7 1134.8,912.7 1136.0,911.8 C1137.2,910.9 1137.2,909.4 1137.3,908.0 C1137.4,906.6 1137.4,905.2 1136.5,903.5 C1135.6,901.8 1133.4,899.9 1132.0,897.5 C1130.6,895.1 1129.1,891.8 1128.3,889.0 C1127.5,886.2 1127.2,883.7 1127.4,881.0 C1127.6,878.3 1128.4,875.5 1129.5,873.0 C1130.6,870.5 1132.5,868.1 1133.8,866.0 C1135.0,863.9 1136.3,862.5 1137.0,860.5 C1137.7,858.5 1137.8,859.1 1138.0,854.0 C1138.2,848.9 1138.0,837.0 1138.0,830.0 C1138.0,823.0 1138.0,815.0 1138.0,812.0"/>
      <use href="#spo" transform="translate(2288.0,0) scale(-1,1)"/>
    </g>
    <!-- red blocks -->
    <g id="rb" fill="#fb5252" stroke="#3a0c0c" stroke-width="2.6">
      <path d="M1060,933 C1059,931 1060,929.5 1062,929 C1085,923.5 1108,920 1131,918.6 C1134,918.4 1135.7,920 1135.7,923 L1135.7,955 C1135.7,957.5 1134,958.8 1131,959 L1069,960 C1066,960 1064.5,958.5 1064,956 C1062,948 1060,939 1059,931 Z"/>
      <path d="M1068.5,969.5 L1132,968.3 C1134.5,968.3 1135.7,969.5 1135.7,972 L1136.5,1068 C1136.5,1071 1135,1072 1132.5,1071 C1129,1069 1127,1066 1125,1062 C1116,1046 1107,1030 1098,1015 C1089,1000 1079,986 1071,973 C1069.5,971 1067,969.5 1068.5,969.5 Z"/>
    </g>
    <use href="#rb" transform="translate(2288.0,0) scale(-1,1)"/>
  </g>
</g>

<!-- ===== DASHED CONNECTORS ===== -->
<g id="dashes" fill="none" stroke-width="3.4" stroke-dasharray="11.5 12.5">
  <path d="M416,164 H1113" stroke="#c8101a"/>
  <path d="M1144.2,190 V905" stroke="#c8101a"/>
  <path d="M1144.2,905 V940" stroke="#b00a12" stroke-width="2.8"/>
  <path d="M525,381.3 H900" stroke="#1a7cc4"/>
  <path d="M923.7,412 V1168.3 H1112" stroke="#1a7cc4"/>
  <path d="M611.5,660 V982" stroke="#18b428"/>
  <path d="M642,1007.3 H822.5 V1259.5 H1123" stroke="#18b428"/>
  <path d="M395,528.3 H186 V1196" stroke="#d4a018"/>
  <path d="M212,1228.5 H1038" stroke="#d4a018"/>
</g>

<!-- ===== BADGES ===== -->
<g id="badges" stroke-linejoin="round">
  <!-- cushion badges (white ring) -->
  <circle cx="386.4" cy="161.4" r="24.2" fill="#d8000f" stroke="#fff" stroke-width="2.1"/>
  <text class="bd" x="386.4" y="175.2" font-size="39">A</text>
  <circle cx="470.3" cy="379.7" r="23.6" fill="#0f80d6" stroke="#fff" stroke-width="2.1"/>
  <text class="bd" x="470.8" y="393.6" font-size="39">B</text>
  <circle cx="595.8" cy="487.6" r="23.6" fill="#dc9c0c" stroke="#fff" stroke-width="2.1"/>
  <text class="bd" x="596.6" y="500.8" font-size="37">D</text>
  <circle cx="419.9" cy="526.6" r="23.6" fill="#dc9c0c" stroke="#fff" stroke-width="2.1"/>
  <text class="bd" x="420.7" y="539.8" font-size="37">D</text>
  <circle cx="613.4" cy="636.1" r="23.6" fill="#10c818" stroke="#fff" stroke-width="2.1"/>
  <text class="bd" x="613.6" y="650.2" font-size="39">C</text>
  <!-- body badges -->
  <circle cx="1144.7" cy="960.7" r="17.9" fill="#d8000f" stroke="#fff" stroke-width="1.8"/>
  <text class="bd" x="1144.7" y="971.8" font-size="31">A</text>
  <circle cx="1145.2" cy="1167.2" r="18.6" fill="#0f80d6" stroke="#fff" stroke-width="1.8"/>
  <text class="bd" x="1145.6" y="1178.3" font-size="31">B</text>
  <circle cx="1056" cy="1227.2" r="16.2" fill="#dc9c0c" stroke="#ffeec8" stroke-width="1.8"/>
  <text class="bd" x="1056.6" y="1238.2" font-size="30.5">D</text>
  <circle cx="1231.9" cy="1227.2" r="16.2" fill="#dc9c0c" stroke="#ffeec8" stroke-width="1.8"/>
  <text class="bd" x="1232.5" y="1238.2" font-size="30.5">D</text>
  <circle cx="1142.4" cy="1258" r="17.5" fill="#10c818" stroke="#dfffd8" stroke-width="1.8"/>
  <text class="bd" x="1142.6" y="1269.4" font-size="31.5">C</text>
  <!-- free badges -->
  <circle cx="1136.2" cy="164.7" r="22.8" fill="#d8000f"/>
  <text class="bd" x="1136.2" y="179.2" font-size="39">A</text>
  <circle cx="924.1" cy="387.5" r="23" fill="#0f80d6"/>
  <text class="bd" x="925" y="401" font-size="39">B</text>
  <circle cx="617" cy="1006.4" r="22.8" fill="#10c818"/>
  <text class="bd" x="617.6" y="1020.6" font-size="39.5">C</text>
  <circle cx="186.8" cy="1220" r="22.8" fill="#dc9c0c"/>
  <text class="bd" x="187.6" y="1233" font-size="36.5">D</text>
</g>

<!-- ===== LABELS ===== -->
<g id="labels">
  <text class="lbl" x="1025.5" y="122.3" fill="#c8141c" stroke="#c8141c" textLength="221.5" lengthAdjust="spacingAndGlyphs" font-size="29">Cervical support</text>
  <text class="lbl" x="806.4" y="342.3" fill="#1a78be" stroke="#1a78be" textLength="249" lengthAdjust="spacingAndGlyphs">Back Support Area</text>
  <text class="lbl" x="488.6" y="1068.2" fill="#20bc2c" stroke="#20bc2c" textLength="257.5" lengthAdjust="spacingAndGlyphs">Spinalsupport Area</text>
  <text class="lbl" x="55" y="1288.1" fill="#d2a02a" stroke="#d2a02a" textLength="287.5" lengthAdjust="spacingAndGlyphs">Lumbar Supporf Area</text>
</g>
</svg>
</body>
</html>
